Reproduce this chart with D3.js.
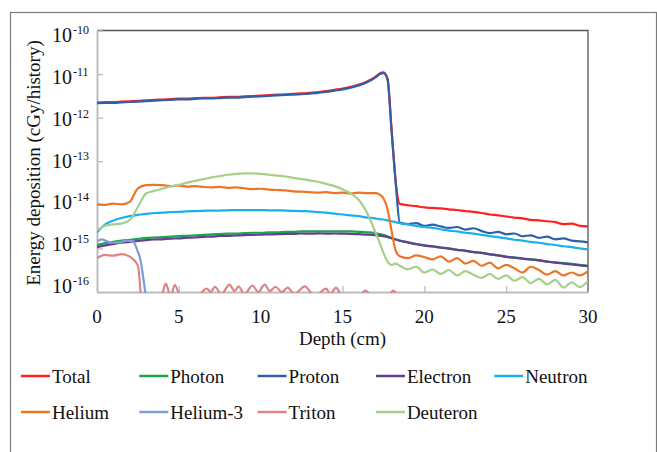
<!DOCTYPE html>
<html>
<head>
<meta charset="utf-8">
<script src="https://cdnjs.cloudflare.com/ajax/libs/d3/7.8.5/d3.min.js"></script>
<style>
body { margin: 0; background: #fff; }
svg { display: block; font-family: "Liberation Serif", "Times New Roman", serif; }
</style>
</head>
<body>
<div id="chart"></div>
<script>
// depth grid (cm) shared by most series
var depth = [0,0.5,1,1.5,2,2.5,3,3.5,4,4.5,5,5.5,6,6.5,7,7.5,8,8.5,9,9.5,10,10.5,11,11.5,12,12.5,13,13.5,14,14.5,15,15.5,16,16.5,17,
  17.25,17.5,17.75,18,18.25,18.5,
  19,19.5,20,20.5,21,21.5,22,22.5,23,23.5,24,24.5,25,25.5,26,26.5,27,27.5,28,28.5,29,29.5,30];

// energy deposition (cGy/history)
var total = [2.23e-12,2.28e-12,2.28e-12,2.33e-12,2.38e-12,2.43e-12,2.50e-12,2.55e-12,2.61e-12,2.67e-12,2.74e-12,2.74e-12,2.80e-12,2.86e-12,2.86e-12,2.93e-12,3.00e-12,3.00e-12,3.07e-12,3.14e-12,3.21e-12,3.29e-12,3.37e-12,3.44e-12,3.53e-12,3.61e-12,3.69e-12,3.87e-12,4.05e-12,4.34e-12,4.65e-12,5.10e-12,5.72e-12,6.72e-12,8.65e-12,
  1.02e-11,1.09e-11,7.9e-12,5.2e-13,3.4e-14,1.05e-14,
  9.8e-15,9.3e-15,8.7e-15,8.5e-15,8.3e-15,7.9e-15,7.6e-15,7.2e-15,6.9e-15,6.5e-15,6.0e-15,5.75e-15,5.4e-15,5.1e-15,4.9e-15,4.5e-15,4.4e-15,4.2e-15,4.0e-15,3.6e-15,3.7e-15,3.3e-15,3.2e-15];

var photon = [1.20e-15,1.32e-15,1.41e-15,1.51e-15,1.58e-15,1.66e-15,1.74e-15,1.78e-15,1.82e-15,1.86e-15,1.91e-15,1.95e-15,2.00e-15,2.04e-15,2.09e-15,2.14e-15,2.19e-15,2.19e-15,2.24e-15,2.29e-15,2.29e-15,2.34e-15,2.34e-15,2.40e-15,2.40e-15,2.45e-15,2.45e-15,2.45e-15,2.45e-15,2.45e-15,2.45e-15,2.45e-15,2.40e-15,2.34e-15,2.24e-15,
  2.14e-15,2.04e-15,1.91e-15,1.74e-15,1.62e-15,1.51e-15,
  1.38e-15,1.26e-15,1.17e-15,1.12e-15,1.05e-15,1.00e-15,9.3e-16,8.9e-16,8.3e-16,7.9e-16,7.4e-16,6.9e-16,6.5e-16,6.2e-16,5.9e-16,5.6e-16,5.4e-16,5.0e-16,4.8e-16,4.6e-16,4.4e-16,4.2e-16,4.0e-16];

var proton = [2.14e-12,2.19e-12,2.19e-12,2.24e-12,2.29e-12,2.34e-12,2.40e-12,2.45e-12,2.51e-12,2.57e-12,2.63e-12,2.63e-12,2.69e-12,2.75e-12,2.75e-12,2.82e-12,2.88e-12,2.88e-12,2.95e-12,3.02e-12,3.09e-12,3.16e-12,3.24e-12,3.31e-12,3.39e-12,3.47e-12,3.55e-12,3.72e-12,3.89e-12,4.17e-12,4.47e-12,4.90e-12,5.50e-12,6.46e-12,8.32e-12,
  9.77e-12,1.05e-11,7.59e-12,5.0e-13,3.2e-14,3.9e-15,
  3.6e-15,3.8e-15,3.3e-15,3.5e-15,3.2e-15,2.95e-15,3.1e-15,2.7e-15,2.9e-15,2.5e-15,2.24e-15,2.4e-15,2.1e-15,2.2e-15,1.9e-15,2.0e-15,1.74e-15,1.86e-15,1.62e-15,1.7e-15,1.51e-15,1.45e-15,1.38e-15];

var electron = [1.07e-15,1.17e-15,1.26e-15,1.35e-15,1.41e-15,1.48e-15,1.55e-15,1.60e-15,1.62e-15,1.68e-15,1.70e-15,1.76e-15,1.78e-15,1.84e-15,1.86e-15,1.93e-15,1.95e-15,1.98e-15,2.02e-15,2.04e-15,2.08e-15,2.10e-15,2.12e-15,2.16e-15,2.15e-15,2.20e-15,2.18e-15,2.21e-15,2.19e-15,2.20e-15,2.18e-15,2.16e-15,2.12e-15,2.08e-15,2.02e-15,
  1.97e-15,1.90e-15,1.82e-15,1.70e-15,1.60e-15,1.50e-15,
  1.37e-15,1.25e-15,1.16e-15,1.11e-15,1.04e-15,9.9e-16,9.3e-16,8.8e-16,8.2e-16,7.9e-16,7.3e-16,6.9e-16,6.4e-16,6.1e-16,5.8e-16,5.6e-16,5.3e-16,5.0e-16,4.7e-16,4.5e-16,4.3e-16,4.1e-16,3.9e-16];

var neutron = [2.34e-15,3.55e-15,4.37e-15,5.0e-15,5.5e-15,5.9e-15,6.2e-15,6.5e-15,6.6e-15,6.8e-15,6.9e-15,7.1e-15,7.2e-15,7.3e-15,7.4e-15,7.4e-15,7.5e-15,7.6e-15,7.6e-15,7.6e-15,7.6e-15,7.5e-15,7.5e-15,7.4e-15,7.3e-15,7.2e-15,7.1e-15,6.8e-15,6.6e-15,6.3e-15,6.0e-15,5.75e-15,5.5e-15,5.1e-15,4.9e-15,
  4.7e-15,4.6e-15,4.4e-15,4.2e-15,4.0e-15,3.8e-15,
  3.55e-15,3.3e-15,3.1e-15,2.95e-15,2.75e-15,2.57e-15,2.45e-15,2.29e-15,2.19e-15,2.04e-15,1.91e-15,1.82e-15,1.70e-15,1.58e-15,1.51e-15,1.41e-15,1.35e-15,1.26e-15,1.20e-15,1.12e-15,1.07e-15,1.0e-15,9.5e-16];

var helium = [1.02e-14,1.00e-14,1.07e-14,1.02e-14,1.17e-14,2.40e-14,2.82e-14,2.88e-14,2.82e-14,2.69e-14,2.75e-14,2.63e-14,2.69e-14,2.57e-14,2.51e-14,2.57e-14,2.45e-14,2.51e-14,2.40e-14,2.29e-14,2.34e-14,2.24e-14,2.19e-14,2.14e-14,2.04e-14,2.00e-14,1.95e-14,1.91e-14,1.95e-14,1.86e-14,1.91e-14,1.82e-14,1.91e-14,1.86e-14,1.86e-14,
  1.74e-14,1.41e-14,7.9e-15,2.5e-15,8.9e-16,6.6e-16,
  6.0e-16,6.9e-16,6.3e-16,5.6e-16,6.6e-16,5.0e-16,6.0e-16,4.5e-16,5.2e-16,4.0e-16,4.7e-16,3.5e-16,4.2e-16,3.5e-16,2.8e-16,3.8e-16,3.2e-16,2.5e-16,3.0e-16,2.4e-16,2.8e-16,2.4e-16,3.0e-16];

var deuteron = [2.63e-15,3.31e-15,3.55e-15,3.72e-15,4.47e-15,8.91e-15,1.82e-14,2.09e-14,2.34e-14,2.63e-14,2.88e-14,3.24e-14,3.55e-14,3.89e-14,4.27e-14,4.57e-14,4.90e-14,5.13e-14,5.25e-14,5.25e-14,5.13e-14,4.90e-14,4.68e-14,4.47e-14,4.17e-14,3.89e-14,3.63e-14,3.39e-14,3.02e-14,2.69e-14,2.29e-14,1.82e-14,1.29e-14,6.46e-15,2.40e-15,
  1.41e-15,7.9e-16,5.0e-16,4.2e-16,4.5e-16,4.0e-16,
  3.3e-16,3.8e-16,2.8e-16,3.3e-16,2.6e-16,3.2e-16,2.4e-16,3.0e-16,2.5e-16,2.1e-16,2.6e-16,2.0e-16,2.4e-16,1.8e-16,2.2e-16,1.6e-16,2.0e-16,1.5e-16,1.9e-16,1.26e-16,1.66e-16,1.3e-16,1.8e-16];

// helium-3 and triton fall below the axis early, so they keep their own depth points
var helium3Depth = [0,0.3,0.6,1,1.5,1.8,2.2,2.45,2.65,2.8,2.95,3.1];
var helium3 = [1.45e-15,1.62e-15,1.45e-15,1.35e-15,1.41e-15,1.51e-15,1.45e-15,9.3e-16,5.6e-16,2.5e-16,1.0e-16,5e-17];

var tritonDepth = [0,0.5,1,1.5,2,2.3,2.5,2.62,2.72,3.3,3.9,4.2,4.5,4.75,5.1,6.0,6.7,6.95,7.2,7.6,8.1,8.4,8.65,9.0,9.5,9.85,10.25,10.55,10.9,11.3,11.65,12.05,12.7,13.3,14.0,14.25,14.6,15.0,16.0,16.4,16.8,17.8,18.1,18.4,19.0];
var triton = [6.0e-16,7.1e-16,6.8e-16,7.4e-16,6.5e-16,5.2e-16,4.0e-16,1.6e-16,5e-17,6.3e-17,7.1e-17,1.55e-16,7.9e-17,1.45e-16,7.9e-17,7.1e-17,1.2e-16,1.0e-16,1.32e-16,8.9e-17,1.48e-16,1.05e-16,1.35e-16,8.9e-17,1.41e-16,1.0e-16,1.48e-16,1.05e-16,1.32e-16,1.0e-16,1.26e-16,8.9e-17,1.35e-16,7.9e-17,1.2e-16,8.9e-17,1.26e-16,7.9e-17,7.9e-17,1.07e-16,7.9e-17,7.9e-17,1.07e-16,7.9e-17,6.3e-17];

var seriesNames = ["Total","Photon","Proton","Electron","Neutron","Helium","Helium-3","Triton","Deuteron"];
var seriesColors = ["#ff2020","#1ca64c","#2e60a8","#623f90","#1ab0ea","#ec7526","#7e9cd8","#da8686","#a7cf8b"];

var xTicks = [0,5,10,15,20,25,30];
var yTicks = [1e-10,1e-11,1e-12,1e-13,1e-14,1e-15,1e-16];
var yTickExp = ["-10","-11","-12","-13","-14","-15","-16"];

var width = 657, height = 452;
var plotLeft = 97, plotRight = 588, plotTop = 30.5, plotBottom = 292;

var x = d3.scaleLinear().domain([0, 30]).range([plotLeft, plotRight]);
var y = d3.scaleLog().domain([1e-16, 1e-10]).range([plotBottom, plotTop]);
// tick labels in the original sit slightly off their ticks
var yLabel = d3.scaleLog().domain([1e-16, 1e-10]).range([293, 42]);

var svg = d3.select("#chart").append("svg")
    .attr("width", width)
    .attr("height", height);

// outer frame
svg.append("rect")
    .attr("x", 10.5).attr("y", 12.5)
    .attr("width", 646).attr("height", 460)
    .attr("fill", "none").attr("stroke", "#7a7a7a").attr("stroke-width", 1.2);

svg.append("clipPath").attr("id", "clip")
  .append("rect")
    .attr("x", plotLeft).attr("y", plotTop - 2)
    .attr("width", plotRight - plotLeft).attr("height", plotBottom - plotTop + 3);

// plot box: dark top/right, light gray axes
svg.append("path")
    .attr("d", "M" + plotLeft + "," + plotTop + "H" + plotRight + "V" + plotBottom)
    .attr("fill", "none").attr("stroke", "#555").attr("stroke-width", 1.3);

var yAxis = svg.append("g")
    .attr("transform", "translate(" + plotLeft + ",0)")
    .call(d3.axisLeft(y).tickValues(yTicks).tickSize(-6).tickSizeOuter(0).tickFormat(""));
var xAxis = svg.append("g")
    .attr("transform", "translate(0," + plotBottom + ")")
    .call(d3.axisBottom(x).tickValues(xTicks.slice(1, -1)).tickSize(-6).tickSizeOuter(0).tickFormat(""));
[yAxis, xAxis].forEach(function(g) {
    g.select(".domain").attr("stroke", "#bdbdbd").attr("stroke-width", 2);
    g.selectAll(".tick line").attr("stroke", "#bdbdbd").attr("stroke-width", 1.3);
});

// curves
var line = d3.line()
    .x(function(d) { return x(d[0]); })
    .y(function(d) { return y(d[1]); })
    .curve(d3.curveMonotoneX);

var seriesData = [total, photon, proton, electron, neutron, helium, helium3, triton, deuteron];
var seriesDepth = [depth, depth, depth, depth, depth, depth, helium3Depth, tritonDepth, depth];

var plot = svg.append("g").attr("clip-path", "url(#clip)");
seriesData.forEach(function(vals, i) {
    var pts = vals.map(function(v, j) { return [seriesDepth[i][j], v]; });
    plot.append("path")
        .datum(pts)
        .attr("d", line)
        .attr("fill", "none")
        .attr("stroke", seriesColors[i])
        .attr("stroke-width", 2.2)
        .attr("stroke-linejoin", "round");
});

// y tick labels 10^n
yTicks.forEach(function(t, i) {
    var txt = svg.append("text")
        .attr("x", 52)
        .attr("y", yLabel(t))
        .attr("font-size", 20)
        .attr("fill", "#111");
    txt.append("tspan").text("10");
    txt.append("tspan").attr("font-size", 12).attr("dy", -8).attr("dx", 1).text(yTickExp[i]);
});

// x tick labels
svg.selectAll(".xlab")
    .data(xTicks)
    .enter().append("text")
    .attr("class", "xlab")
    .attr("x", function(d) { return x(d); })
    .attr("y", 323)
    .attr("text-anchor", "middle")
    .attr("font-size", 19)
    .attr("fill", "#111")
    .text(function(d) { return d; });

svg.append("text")
    .attr("x", (plotLeft + plotRight) / 2)
    .attr("y", 345)
    .attr("text-anchor", "middle")
    .attr("font-size", 19)
    .attr("fill", "#111")
    .text("Depth (cm)");

svg.append("text")
    .attr("transform", "translate(40,163) rotate(-90)")
    .attr("text-anchor", "middle")
    .attr("font-size", 19)
    .attr("fill", "#111")
    .text("Energy deposition (cGy/history)");

// legend, 5 per row
var legend = svg.selectAll(".legend")
    .data(seriesNames)
    .enter().append("g")
    .attr("class", "legend")
    .attr("transform", function(d, i) {
        return "translate(" + (21 + (i % 5) * 118.3) + "," + (376 + Math.floor(i / 5) * 36) + ")";
    });
legend.append("line")
    .attr("x1", 0).attr("x2", 29)
    .attr("stroke", function(d, i) { return seriesColors[i]; })
    .attr("stroke-width", 2.5);
legend.append("text")
    .attr("x", 31)
    .attr("y", 6.5)
    .attr("font-size", 19)
    .attr("fill", "#111")
    .text(function(d) { return d; });
</script>
</body>
</html>
